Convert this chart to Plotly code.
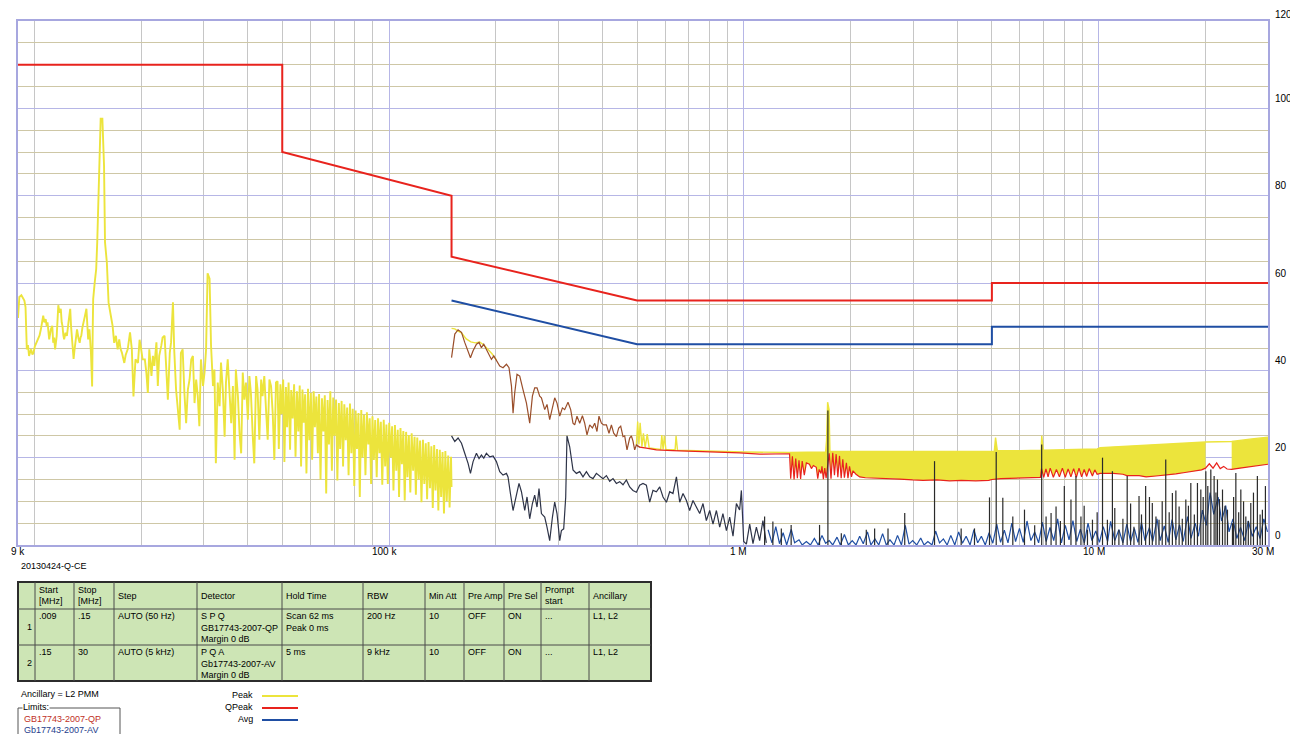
import math
import plotly.graph_objects as go

# ── Page geometry (px, as seen in the browser window) ────────
W, H = 1298, 734
BODY = 8                       # default page margin around the plot div
FW, FH = W - BODY, H - BODY    # figure size
PLOT_L, PLOT_R, PLOT_T, PLOT_B = 18, 1268, 21, 545

# ── Limit lines (GB17743-2007) ───────────────────────────────
QP_LIMIT_HZ = [9e3, 50e3, 50e3, 150e3, 150e3, 500e3, 5e6, 5e6, 30e6]
QP_LIMIT_DB = [110, 110, 90, 80, 66, 56, 56, 60, 60]
AV_LIMIT_HZ = [150e3, 500e3, 5e6, 5e6, 30e6]
AV_LIMIT_DB = [56, 46, 46, 50, 50]

# ── Band 1 peak scan, 9 kHz - 150 kHz (kHz / dBuV) ───────────
PEAK_LF_KHZ = [
    9.0, 9.08, 9.2, 9.3, 9.38, 9.45, 9.53, 9.6, 9.67, 9.74,
    9.8, 9.88, 9.95, 10.04, 10.15, 10.26, 10.35, 10.44, 10.52, 10.6,
    10.68, 10.77, 10.84, 10.9, 11.02, 11.08, 11.14, 11.24, 11.31, 11.38,
    11.45, 11.57, 11.63, 11.69, 11.78, 11.88, 11.95, 12.01, 12.08, 12.14,
    12.25, 12.36, 12.5, 12.63, 12.7, 12.77, 12.84, 12.91, 12.98, 13.05,
    13.12, 13.2, 13.32, 13.43, 13.5, 13.57, 13.67, 13.78, 13.9, 14.03,
    14.11, 14.19, 14.25, 14.31, 14.45, 14.56, 14.62, 14.66, 14.81, 14.95,
    15.05, 15.15, 15.28, 15.39, 15.56, 15.73, 15.83, 16.02, 16.2, 16.35,
    16.44, 16.63, 16.8, 16.99, 17.18, 17.36, 17.5, 17.67, 17.94, 18.1,
    18.34, 18.62, 18.84, 19.04, 19.15, 19.29, 19.6, 19.81,
    20.0, 20.2, 20.5, 20.7, 20.9, 21.1, 21.4, 21.6, 21.8, 22.1,
    22.3, 22.5, 22.8, 23.0, 23.3, 23.5, 23.8, 24.1, 24.3, 24.6,
    24.8, 25.1, 25.4, 25.7, 25.9, 26.2, 26.5, 26.8, 27.1, 27.4,
    27.7, 28.0, 28.3, 28.6, 28.9, 29.2, 29.5, 29.9, 30.2, 30.5,
    30.8, 31.2, 31.5, 31.9, 32.2, 32.5, 32.9, 33.3, 33.6, 34.0,
    34.4, 34.7, 35.1, 35.5, 35.9, 36.3, 36.7, 37.0, 37.5, 37.9,
    38.3, 38.7, 39.1, 39.5, 40.0, 40.4, 40.8, 41.3, 41.7, 42.2,
    42.6, 43.1, 43.6, 44.0, 44.5, 45.0, 45.5, 46.0, 46.5, 47.0,
    47.5, 48.0,
    48.5, 48.9, 49.4, 49.8, 50.3, 50.7, 51.2, 51.6, 52.1, 52.6,
    53.0, 53.5, 54.0, 54.5, 55.0, 55.5, 56.0, 56.5, 57.0, 57.5,
    58.0, 58.5, 59.1, 59.6, 60.2, 60.7, 61.3, 61.8, 62.4, 63.0,
    63.5, 64.1, 64.7, 65.3, 65.9, 66.5, 67.1, 67.7, 68.3, 69.0,
    69.6, 70.2, 70.9, 71.5, 72.2, 72.8, 73.5, 74.2, 74.8, 75.5,
    76.2, 76.9, 77.6, 78.3, 79.0, 79.8, 80.5, 81.2, 82.0, 82.7,
    83.5, 84.2, 85.0, 85.8, 86.6, 87.4, 88.2, 89.0, 89.8, 90.6,
    91.4, 92.3, 93.1, 94.0, 94.8, 95.7, 96.6, 97.5, 98.3, 99.2,
    100.1, 101.1, 102.0, 102.9, 103.9, 104.8, 105.8, 106.7, 107.7, 108.7,
    109.7, 110.7, 111.7, 112.7, 113.7, 114.8, 115.8, 116.9, 118.0, 119.0,
    120.1, 121.2, 122.3, 123.4, 124.6, 125.7, 126.9, 128.0, 129.2, 130.4,
    131.6, 132.8, 134.0, 135.2, 136.5, 137.7, 139.0, 140.2, 141.5, 142.8,
    144.1, 145.4, 146.8, 148.1, 149.5, 150.0,
]
PEAK_LF_DB = [
    52.0, 56.8, 57.2, 56.5, 56.0, 54.5, 44.8, 45.8, 43.3, 44.2,
    44.8, 43.6, 44.0, 45.5, 46.3, 47.0, 48.0, 49.4, 50.8, 52.5,
    51.0, 51.7, 50.2, 51.0, 47.1, 48.5, 49.4, 50.2, 46.3, 47.5,
    44.8, 47.9, 52.0, 54.9, 53.2, 54.1, 51.0, 50.2, 48.0, 47.1,
    48.6, 47.9, 51.2, 54.1, 50.0, 47.1, 45.0, 42.6, 44.5, 46.3,
    48.0, 49.4, 47.4, 46.3, 47.5, 47.9, 49.8, 50.9, 52.5, 54.1,
    49.5, 47.1, 48.5, 49.4, 44.0, 36.3, 50.0, 56.3, 60.2, 63.2,
    69.3, 77.6, 88.4, 97.6, 97.6, 86.8, 69.3, 64.7, 55.5, 54.0,
    52.5, 50.2, 46.3, 47.9, 44.8, 47.1, 45.0, 44.0, 41.7, 43.5,
    44.8, 48.7, 44.8, 34.0, 40.0, 42.5, 41.7, 47.0,
    45.0, 42.5, 42.5, 39.5, 34.8, 44.8, 38.7, 43.3, 41.0, 46.4,
    36.4, 43.3, 45.6, 47.5, 47.9, 42.5, 33.3, 44.0, 46.4, 55.6,
    44.8, 35.6, 31.0, 26.4, 44.0, 44.8, 34.8, 27.9, 35.6, 37.9,
    42.5, 43.3, 32.5, 37.9, 34.1, 27.2, 42.5, 36.4, 39.5, 44.8,
    62.2, 61.0, 45.6, 36.4, 40.2, 18.7, 37.2, 31.8, 41.8, 35.6,
    24.8, 37.2, 42.5, 33.3, 27.9, 36.4, 19.5, 40.2, 34.1, 25.6,
    21.0, 39.5, 33.3, 37.2, 28.7, 38.7, 34.8, 24.8, 18.7, 38.7,
    35.6, 24.1, 37.9, 34.1, 38.7, 31.0, 24.1, 37.9, 36.4, 30.2,
    19.5, 37.2,
    37.5, 22.0, 36.8, 30.0, 37.9, 19.0, 36.2, 27.0, 37.2, 21.8,
    35.5, 29.0, 36.8, 20.2, 35.2, 26.0, 36.5, 18.0, 35.6, 28.0,
    34.5, 16.4, 35.8, 24.0, 34.8, 19.5, 35.2, 27.0, 34.0, 21.0,
    34.6, 15.0, 33.6, 26.0, 34.3, 11.8, 33.2, 23.0, 35.2, 17.0,
    33.8, 25.0, 33.3, 14.8, 32.5, 22.0, 33.0, 18.0, 32.2, 24.0,
    31.5, 16.0, 32.4, 21.0, 31.2, 13.5, 30.8, 22.0, 30.2, 11.0,
    30.9, 20.0, 29.8, 16.0, 30.4, 23.0, 29.0, 14.0, 29.5, 19.5,
    28.6, 15.5, 29.0, 21.0, 28.2, 13.8, 28.7, 18.0, 27.6, 14.0,
    28.0, 20.0, 27.2, 12.5, 27.5, 17.0, 26.4, 11.0, 26.8, 18.5,
    26.1, 10.2, 25.9, 15.5, 25.2, 12.0, 25.6, 17.0, 24.8, 11.5,
    24.6, 15.0, 23.9, 9.8, 24.1, 14.0, 23.3, 10.5, 23.6, 13.0,
    22.6, 8.5, 22.9, 12.5, 22.0, 7.9, 21.8, 11.0, 21.3, 7.2,
    21.5, 10.0, 20.5, 8.6, 20.2, 13.3,
]

# ── Band 2 peak scan, 150 kHz - 30 MHz (upper envelope) ──────
PEAK_HF_KHZ = [
    150.0, 153.2, 156.5, 160.0, 165.0, 170.0, 175.0, 180.0, 185.0, 190.0,
    195.0, 200.7, None, 497.8, 502, 506, 510, 516, 521, 527,
    534, 541, 583, 587, 592, 597, 603, 640, 644, 650,
    800, 1000, 1340, 1700, 1710, 1722, 1738, 1748, 2000, 3000,
    4000, 5080, 5120, 5180, 6000, 6880, 6910, 6980, 8000, 9900,
    10100, 12000, 14000, 16000, 18000, 20000, 23700, 25000, 27000, 30000,
]
PEAK_HF_DB = [
    49.6, 49.5, 49.0, 48.6, 47.2, 46.5, 46.3, 46.5, 45.8, 44.8,
    43.8, 42.4, None, 22.9, 28.3, 23.0, 28.0, 22.5, 25.6, 22.3,
    25.4, 22.2, 21.9, 25.2, 21.9, 25.0, 21.8, 21.8, 25.0, 21.7,
    21.5, 21.3, 21.2, 21.3, 24.0, 32.7, 31.0, 21.4, 21.4, 21.5,
    21.5, 21.5, 24.6, 21.6, 21.6, 21.7, 25.0, 21.7, 21.8, 22.0,
    22.3, 22.6, 22.9, 23.2, 23.4, 23.6, 23.7, 24.0, 24.3, 24.7,
]
# frequency spans where the peak scan is solid yellow above QPeak
PEAK_BANDS_KHZ = [(1340, 20000), (23700, 30000)]

# ── QPeak, 150 kHz - 30 MHz ─────────────────────────────────
QP_KHZ = [
    150.0, 153.2, 156.5, 160.0, 163.4, 167.0, 169.6, 172.5, 176.3, 179.3,
    182.1, 184.9, 188.1, 191.3, 194.3, 197.3, 200.7, 205.1, 209.5, 214.2,
    217.8, 221.3, 223.6, 226.0, 229.4, 233.5, 238.5, 243.9, 249.1, 253.5,
    257.3, 261.2, 265.8, 268.8, 274.6, 278.7, 283.6, 288.7, 293.0, 297.4,
    302.7, 308.0, 312.6, 319.4, 325.0, 329.9, 333.6, 338.6, 344.6, 350.7,
    355.9, 361.3, 367.7, 374.2, 379.8, 385.5, 390.5, 396.7, 402.6, 409.8,
    416.7, 423.3, 429.6, 437.2, 443.8, 449.6, 456.4, 461.4, 468.4, 476.6,
    481.9, 486.9, 492.3, 497.8, 508.6, 531.1, 566.8, 631.2, 703.3, 783.8,
    872.8, 972.6, 1107.6, 1200, 1300, 1345,
    1355, 1370, 1385, 1400, 1415, 1430, 1445, 1460, 1480, 1500,
    1530, 1550, 1570, 1600, 1615, 1630, 1650, 1660, 1675, 1690,
    1705, 1720, 1740, 1760, 1780, 1800, 1820, 1840, 1860, 1880,
    1900, 1920, 1945, 1965, 1985, 2010, 2030, 2070, 2120, 2200,
    2360, 2570, 2750, 2990, 3200, 3500, 3800, 4100, 4500, 4900,
    5000, 5300, 5600, 6000, 6400, 6850,
    6900, 7000, 7100, 7200, 7300, 7450, 7600, 7750, 7900, 8050,
    8200, 8350, 8500, 8650, 8800, 8950, 9100, 9250, 9400, 9600,
    9750, 9900, 10100, 11000, 11700, 12000, 13000, 13600, 14500, 15500,
    16500, 17500, 18500, 19500, 20000, 20500, 21000, 21500, 22000, 22500,
    23000, 23700, 25000, 27000, 30000,
]
QP_DB = [
    42.9, 48.3, 49.3, 48.7, 46.4, 44.1, 42.9, 44.5, 46.0, 46.4,
    45.2, 46.0, 44.8, 43.7, 42.5, 43.3, 42.2, 41.0, 40.6, 41.4,
    40.6, 36.4, 30.2, 34.8, 39.1, 38.7, 35.6, 32.5, 27.9, 34.1,
    36.0, 36.0, 34.1, 33.7, 31.0, 32.2, 28.7, 31.8, 33.7, 32.5,
    29.5, 31.4, 31.0, 32.7, 31.0, 27.9, 27.5, 29.5, 27.9, 29.6,
    27.9, 25.2, 27.5, 26.8, 27.9, 26.0, 29.5, 27.9, 27.5, 27.5,
    25.6, 27.5, 25.6, 24.8, 26.8, 27.2, 24.8, 25.0, 21.8, 24.5,
    25.0, 23.8, 21.8, 22.9, 22.4, 22.2, 21.8, 21.6, 21.5, 21.4,
    21.2, 21.1, 20.8, 20.9, 20.9, 20.9,
    15.2, 20.3, 15.0, 19.8, 15.3, 19.4, 15.1, 19.2, 16.0, 18.8,
    18.5, 17.5, 18.2, 17.8, 15.2, 17.3, 16.4, 18.0, 15.1, 17.6,
    15.3, 18.5, 21.0, 15.2, 21.1, 16.0, 20.8, 15.5, 20.4, 15.3,
    19.6, 15.4, 18.8, 15.3, 18.0, 15.6, 17.0, 16.2, 15.6, 15.4,
    15.3, 15.3, 15.1, 14.9, 14.8, 14.9, 14.7, 14.8, 14.7, 14.8,
    15.0, 15.2, 15.3, 15.4, 15.4, 15.5,
    17.5, 15.5, 17.4, 15.6, 17.6, 15.5, 17.3, 15.6, 17.6, 15.5,
    17.4, 15.6, 17.5, 15.5, 17.6, 15.6, 17.3, 15.7, 17.5, 15.8,
    17.2, 16.2, 16.4, 16.4, 16.2, 15.9, 15.9, 15.6, 15.8, 16.0,
    16.3, 16.6, 16.9, 17.2, 17.6, 18.6, 17.6, 18.8, 17.5, 18.0,
    17.4, 17.3, 17.6, 18.0, 18.5,
]
QP_SCAN_END_KHZ = 508.6   # end of the darker swept part

# ── Average, 150 kHz - 1.16 MHz ──────────────────────────────
AVG_LO_KHZ = [
    150.0, 153.2, 156.5, 160.0, 163.4, 167.0, 169.6, 172.5, 176.3, 179.3,
    182.1, 184.9, 188.1, 192.2, 196.4, 200.7, 205.1, 209.5, 214.2, 216.4,
    219.8, 223.6, 228.5, 232.4, 236.1, 241.2, 244.8, 249.1, 253.5, 257.3,
    261.2, 264.6, 268.8, 274.6, 278.7, 283.6, 288.7, 293.0, 297.4, 302.7,
    306.0, 310.6, 314.7, 317.3, 322.9, 329.9, 337.3, 344.6, 352.0, 359.9,
    367.7, 375.6, 384.0, 392.3, 400.8, 409.8, 418.6, 427.7, 437.2, 446.7,
    456.4, 466.5, 476.6, 486.9, 497.8, 508.6, 519.6, 531.1, 542.7, 554.4,
    566.8, 579.2, 591.7, 604.9, 618.0, 631.2, 645.5, 659.4, 673.7, 688.7,
    703.3, 718.8, 734.9, 750.8, 767.0, 783.8, 801.1, 818.4, 836.7, 854.8,
    872.8, 892.8, 912.1, 931.9, 952.6, 972.6, 983.9, 998.8, 1016.4, 1038.5,
    1060.9, 1084.6, 1107.6, 1131.5, 1156.7,
]
AVG_LO_DB = [
    25.0, 23.7, 24.5, 23.3, 21.0, 18.7, 16.4, 19.1, 21.0, 19.8,
    20.6, 19.9, 21.0, 20.2, 20.4, 19.1, 16.8, 16.0, 16.4, 15.6,
    11.8, 7.9, 11.4, 14.1, 12.2, 7.9, 11.0, 6.0, 9.5, 11.4,
    8.7, 12.9, 7.2, 6.4, 4.1, 1.0, 6.4, 9.8, 7.2, 1.0,
    3.3, 3.7, 11.0, 25.0, 22.5, 17.2, 16.4, 16.8, 15.6, 16.8,
    15.6, 15.2, 16.4, 15.9, 15.2, 15.9, 14.6, 15.2, 14.1, 14.5,
    13.8, 14.9, 13.3, 12.5, 12.1, 13.7, 14.1, 13.7, 9.8, 12.5,
    12.2, 13.3, 11.0, 9.8, 12.2, 11.8, 15.6, 9.8, 11.8, 10.2,
    7.9, 10.2, 8.7, 7.2, 9.5, 5.6, 7.9, 4.8, 7.9, 4.1,
    7.2, 3.3, 6.4, 2.0, 9.5, 8.0, 12.5, 0.8, 0.2, 4.8,
    0.3, 4.1, 1.0, 5.6, 0.5,
]

# ── Average, 1.17 MHz - 30 MHz ───────────────────────────────
AVG_HI_MHZ = [
    1.17, 1.20, 1.23, 1.26, 1.29, 1.32, 1.36, 1.39, 1.43, 1.46,
    1.50, 1.54, 1.58, 1.62, 1.66, 1.70, 1.74, 1.78, 1.83, 1.87,
    1.92, 1.97, 2.02, 2.07, 2.12, 2.17, 2.23, 2.28, 2.34, 2.40,
    2.46, 2.52, 2.58, 2.65, 2.71, 2.78, 2.85, 2.92, 2.99, 3.07,
    3.15, 3.22, 3.30, 3.39, 3.47, 3.56, 3.65, 3.74, 3.83, 3.93,
    4.03, 4.13, 4.23, 4.34, 4.45, 4.56, 4.67, 4.79, 4.91, 5.03,
    5.16, 5.29, 5.42, 5.55, 5.69, 5.83, 5.98, 6.13, 6.28, 6.44,
    6.60, 6.77, 6.94, 7.11, 7.29, 7.47, 7.66, 7.85, 8.05, 8.25,
    8.46, 8.67, 8.88, 9.11, 9.33, 9.57, 9.81, 10.05, 10.3, 10.6,
    10.8, 11.1, 11.4, 11.7, 12.0, 12.3, 12.6, 12.9, 13.2, 13.5,
    13.9, 14.2, 14.6, 14.9, 15.3, 15.7, 16.1, 16.5, 16.9, 17.3,
    17.8, 18.2, 18.7, 19.1, 19.6, 20.1, 20.6, 21.1, 21.7, 22.2,
    22.8, 23.3, 23.9, 24.5, 25.1, 25.8, 26.4, 27.1, 27.8, 28.5,
    29.2, 29.9,
]
AVG_HI_DB = [
    3.5, 0.5, 4.2, 0.3, 2.8, 0.0, 3.6, 0.5, 1.2, 0.0,
    0.8, 0.0, 1.5, 0.0, 2.2, 0.4, 1.0, 0.0, 1.8, 0.0,
    2.4, 0.0, 1.0, 0.0, 2.0, 0.3, 3.0, 0.0, 1.4, 0.0,
    2.6, 0.0, 1.2, 0.0, 2.2, 0.0, 4.5, 0.2, 1.0, 0.0,
    1.6, 0.0, 0.8, 0.0, 3.2, 0.5, 1.4, 0.0, 2.2, 0.0,
    3.0, 0.4, 2.0, 0.0, 3.5, 0.5, 2.0, 0.0, 2.8, 0.4,
    4.8, 0.6, 3.4, 0.5, 5.0, 0.8, 3.8, 0.6, 5.5, 1.0,
    3.0, 0.5, 5.2, 0.8, 4.0, 1.0, 6.0, 0.5, 4.5, 1.2,
    5.6, 0.8, 3.6, 0.5, 5.0, 1.0, 3.2, 0.6, 4.2, 0.8,
    5.4, 1.0, 3.5, 0.5, 4.8, 0.8, 3.8, 0.6, 5.2, 1.0,
    4.0, 0.8, 6.0, 1.0, 4.4, 0.6, 5.8, 1.2, 4.6, 0.8,
    6.5, 1.5, 5.0, 2.0, 8.0, 4.5, 12.0, 7.0, 11.0, 5.5,
    9.0, 3.0, 6.0, 1.5, 4.0, 1.0, 5.5, 2.0, 4.2, 1.5,
    6.0, 3.0,
]

# ── Narrow spikes in the average sweep (MHz / dBuV) ──────────
SPIKE_MHZ = [
    1.144, 1.207, 1.275, 1.359, 1.634, 1.725, 1.882, 2.213, 2.336, 2.548,
    2.840, 3.446, 4.096, 4.466, 4.923, 5.142, 5.367, 5.727, 6.178, 6.6,
    6.907, 7.107, 7.341, 7.582, 7.8, 8.000, 8.353, 8.627, 8.911, 9.1,
    9.297, 9.603, 9.9, 10.25, 10.58, 10.93, 11.1, 11.40, 11.7, 12.03,
    12.3, 12.57, 12.99, 13.2, 13.56, 13.9, 14.16, 14.5, 14.79, 15.1,
    15.45, 15.8, 16.13, 16.5, 16.85, 17.2, 17.60, 17.9, 18.18, 18.6,
    18.98, 19.40, 19.7, 20.04, 20.3, 20.70, 21.15, 21.4, 21.61, 21.9,
    22.33, 22.7, 23.06, 23.82, 24.0, 24.35, 24.8, 25.15, 25.6, 25.98,
    26.4, 26.83, 27.3, 28.0, 28.5, 28.93, 29.5,
]
SPIKE_DB = [
    6.5, 5.4, 3.8, 4.6, 4.6, 30.8, 2.7, 3.5, 3.8, 3.8,
    7.3, 19.2, 3.8, 3.8, 10.9, 21.3, 10.8, 6.5, 8.1, 4.5,
    23.0, 6.5, 7.3, 8.8, 5.5, 13.5, 10.4, 15.8, 6.5, 9.0,
    3.5, 5.8, 7.5, 20.0, 5.8, 16.9, 8.5, 3.5, 6.0, 15.8,
    9.5, 4.2, 11.2, 7.0, 13.5, 11.0, 9.6, 6.5, 5.8, 10.0,
    19.6, 7.5, 11.9, 12.5, 8.8, 6.0, 10.4, 9.0, 14.2, 7.0,
    14.2, 12.7, 11.0, 16.9, 13.5, 17.3, 15.8, 12.0, 15.0, 10.5,
    12.7, 9.0, 8.1, 5.0, 11.0, 16.5, 7.5, 12.7, 10.0, 6.5,
    5.5, 9.6, 12.0, 15.8, 7.0, 8.1, 13.5,
]

# ── Axis ticks / grid ────────────────────────────────────────
X_LABEL_HZ = [9e3, 1e5, 1e6, 1e7, 3e7]
X_LABEL_TEXT = ["9 k", "100 k", "1 M", "10 M", "30 M"]
X_MINOR_HZ = [m * 10 ** e for e in (4, 5, 6) for m in range(1, 10)] + [1e7, 2e7]
Y_TICKS = [0, 20, 40, 60, 80, 100, 120]

# ── Settings table ───────────────────────────────────────────
TABLE_HEADER = ["", "Start<br>[MHz]", "Stop<br>[MHz]", "Step", "Detector",
                "Hold Time", "RBW", "Min Att", "Pre Amp", "Pre Sel",
                "Prompt<br>start", "Ancillary"]
TABLE_ROWS = [
    ["1", ".009", ".15", "AUTO (50 Hz)", "S P Q<br>GB17743-2007-QP<br>Margin 0 dB",
     "Scan 62 ms<br>Peak 0 ms", "200 Hz", "10", "OFF", "ON", "...", "L1, L2"],
    ["2", ".15", "30", "AUTO (5 kHz)", "P Q A<br>Gb17743-2007-AV<br>Margin 0 dB",
     "5 ms", "9 kHz", "10", "OFF", "ON", "...", "L1, L2"],
]
TABLE_COL_W = [17, 39, 40, 83, 85, 81, 62, 39, 40, 37, 48, 62]
TABLE_ROW_H = [27, 36, 36]
TABLE_LEFT, TABLE_TOP = 18, 582

YELLOW = "#ece43c"
RED = "#e8231d"
BROWN = "#9a4e2a"
BLUE = "#1f4ea3"
DARK = "#2e3448"
LAVENDER = "#b6b6e6"
GREEN = "#cde5b5"
FONT = "Arial, Liberation Sans, sans-serif"

for a, b in [(PEAK_LF_KHZ, PEAK_LF_DB), (PEAK_HF_KHZ, PEAK_HF_DB), (QP_KHZ, QP_DB),
             (AVG_LO_KHZ, AVG_LO_DB), (AVG_HI_MHZ, AVG_HI_DB), (SPIKE_MHZ, SPIKE_DB)]:
    assert len(a) == len(b), (len(a), len(b))


def khz(vals):
    return [None if v is None else v * 1e3 for v in vals]


def px(x, y):
    """window pixel -> paper coords of the figure (which sits BODY px in)"""
    return (x - BODY) / FW, 1 - (y - BODY) / FH


fig = go.Figure()


def line(xs, ys, color, width=1.2, name=None):
    fig.add_trace(go.Scatter(x=xs, y=ys, mode="lines", name=name,
                             line=dict(color=color, width=width),
                             hoverinfo="skip", connectgaps=False))


# peak, band 1
line(khz(PEAK_LF_KHZ), PEAK_LF_DB, YELLOW, 1.9, "Peak")

# peak, band 2: solid area between the peak envelope and QPeak
for lo, hi in PEAK_BANDS_KHZ:
    top = [(f, v) for f, v in zip(PEAK_HF_KHZ, PEAK_HF_DB) if f is not None and lo <= f <= hi]
    bot = [(f, v) for f, v in zip(QP_KHZ, QP_DB) if lo <= f <= hi][::-1]
    poly = top + bot
    fig.add_trace(go.Scatter(x=[p[0] * 1e3 for p in poly], y=[p[1] for p in poly],
                             mode="lines", fill="toself", fillcolor=YELLOW,
                             line=dict(width=0, color=YELLOW), hoverinfo="skip"))
line(khz(PEAK_HF_KHZ), PEAK_HF_DB, YELLOW, 1.4)

# QPeak
scan = [(f, v) for f, v in zip(QP_KHZ, QP_DB) if f <= QP_SCAN_END_KHZ]
rest = [(f, v) for f, v in zip(QP_KHZ, QP_DB) if f >= scan[-2][0]]
line([p[0] * 1e3 for p in rest], [p[1] for p in rest], RED, 1.2, "QPeak")
line([p[0] * 1e3 for p in scan], [p[1] for p in scan], BROWN, 1.2)

# Average
line(khz(AVG_LO_KHZ), AVG_LO_DB, DARK, 1.2, "Avg")
line([f * 1e6 for f in AVG_HI_MHZ], AVG_HI_DB, BLUE, 1.2)
sx, sy = [], []
for f, v in zip(SPIKE_MHZ, SPIKE_DB):
    sx += [f * 1e6, f * 1e6, None]
    sy += [0, v, None]
line(sx, sy, "#2a2a2a", 1.2)

# limits
line(QP_LIMIT_HZ, QP_LIMIT_DB, RED, 2, "GB17743-2007-QP")
line(AV_LIMIT_HZ, AV_LIMIT_DB, BLUE, 2, "Gb17743-2007-AV")

log_range = [math.log10(9e3), math.log10(3e7)]
fig.update_layout(
    width=FW, height=FH,
    margin=dict(l=0, r=0, t=0, b=0),
    paper_bgcolor="white", plot_bgcolor="white",
    showlegend=False,
    font=dict(family=FONT, size=10, color="black"),
    xaxis=dict(
        type="log", range=log_range,
        domain=[px(PLOT_L, 0)[0], px(PLOT_R, 0)[0]],
        tickmode="array", tickvals=X_LABEL_HZ, showticklabels=False,
        showgrid=True, gridcolor=LAVENDER, gridwidth=1,
        minor=dict(tickmode="array", tickvals=X_MINOR_HZ, showgrid=True,
                   gridcolor="#c6c6c6", gridwidth=1, ticks=""),
        showline=True, linecolor="#a7a7df", linewidth=2, mirror=True,
        ticks="", zeroline=False, automargin=False,
    ),
    yaxis=dict(
        range=[0, 120], domain=[px(0, PLOT_B)[1], px(0, PLOT_T)[1]],
        side="right", tickmode="array", tickvals=Y_TICKS, showticklabels=False,
        showgrid=True, gridcolor=LAVENDER, gridwidth=1,
        minor=dict(dtick=5, showgrid=True, gridcolor="#cec7a6", gridwidth=1, ticks=""),
        showline=True, linecolor="#a7a7df", linewidth=2, mirror=True,
        ticks="", zeroline=False, automargin=False,
    ),
)

# axis labels: the analyser prints them slightly off the grid lines;
# the outermost ones are pulled in so they stay inside the page
for hz, lab in zip(X_LABEL_HZ, X_LABEL_TEXT):
    first = hz == X_LABEL_HZ[0]
    fig.add_annotation(x=math.log10(hz), xref="x", y=px(0, 551)[1], yref="paper",
                       text=lab, showarrow=False,
                       xanchor="left" if first else "center", yanchor="middle",
                       xshift=-(PLOT_L - BODY - 1) if first else -5,
                       font=dict(family=FONT, size=10, color="black"))
for v in Y_TICKS:
    fig.add_annotation(x=px(1273, 0)[0], xref="paper", y=v, yref="y",
                       text=str(v), showarrow=False, xanchor="left", yanchor="middle",
                       yshift=7 if v == Y_TICKS[-1] else 10,
                       font=dict(family=FONT, size=10, color="black"))


def text(x, y, s, color="black", anchor="left", bg=None, size=10):
    ax, ay = px(x, y)
    fig.add_annotation(x=ax, y=ay, xref="paper", yref="paper", text=s,
                       showarrow=False, xanchor=anchor, yanchor="middle",
                       font=dict(family=FONT, size=size, color=color),
                       bgcolor=bg, borderpad=0)


def hline(x0, x1, y, color, width=1):
    a0, b = px(x0, y)
    a1, _ = px(x1, y)
    fig.add_shape(type="line", xref="paper", yref="paper", x0=a0, x1=a1, y0=b, y1=b,
                  line=dict(color=color, width=width))


def vline(x, y0, y1, color, width=1):
    a, b0 = px(x, y0)
    _, b1 = px(x, y1)
    fig.add_shape(type="line", xref="paper", yref="paper", x0=a, x1=a, y0=b0, y1=b1,
                  line=dict(color=color, width=width))


# ── settings table drawn as cells ────────────────────────────
col_x = [TABLE_LEFT]
for w in TABLE_COL_W:
    col_x.append(col_x[-1] + w)
row_y = [TABLE_TOP]
for h in TABLE_ROW_H:
    row_y.append(row_y[-1] + h)

c0, r0 = px(col_x[0], row_y[0])
c1, r1 = px(col_x[-1], row_y[-1])
fig.add_shape(type="rect", xref="paper", yref="paper", x0=c0, x1=c1, y0=r1, y1=r0,
              fillcolor=GREEN, line=dict(color="#2c2c2c", width=2), layer="below")
for cx in col_x[1:-1]:
    vline(cx, row_y[0], row_y[-1], "#4a4a4a")
for ry in row_y[1:-1]:
    hline(col_x[0], col_x[-1], ry, "#4a4a4a")

LINE_STEP = 11.5
for ci, label in enumerate(TABLE_HEADER):
    parts = [p for p in label.split("<br>") if p]
    y_mid = (row_y[0] + row_y[1]) / 2
    first = y_mid - (len(parts) - 1) * LINE_STEP / 2
    for k, p in enumerate(parts):
        text(col_x[ci] + 3, first + k * LINE_STEP, p, size=9)
for ri, row in enumerate(TABLE_ROWS):
    top = row_y[ri + 1]
    for ci, cell in enumerate(row):
        if ci == 0:
            text(col_x[1] - 2, (top + row_y[ri + 2]) / 2, cell, anchor="right", size=9)
            continue
        for k, p in enumerate(cell.split("<br>")):
            text(col_x[ci] + 3, top + 7 + k * LINE_STEP, p, size=9)

# ── text under the chart ─────────────────────────────────────
text(20, 566, "20130424-Q-CE", size=9)
text(20, 694, "Ancillary = L2 PMM", size=9)

# limits group box
bx0, by0 = px(18, 708)
bx1, by1 = px(120, 745)
fig.add_shape(type="rect", xref="paper", yref="paper", x0=bx0, y0=by1, x1=bx1, y1=by0,
              line=dict(color="#555555", width=1))
text(22, 707, "Limits:", bg="white", size=9)
text(23, 719, "GB17743-2007-QP", color="#c0301e", size=9)
text(23, 730, "Gb17743-2007-AV", color="#243c8c", size=9)

# trace key
for label, yy, col in [("Peak", 695, YELLOW), ("QPeak", 707, RED), ("Avg", 719, BLUE)]:
    text(254, yy, label, anchor="right", size=9)
    hline(262, 298, yy + 1, col, 2)

fig.write_html("out.html")
